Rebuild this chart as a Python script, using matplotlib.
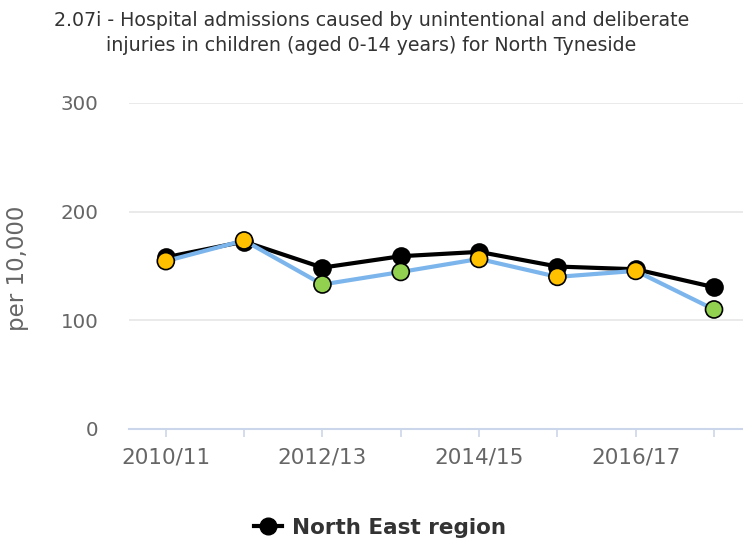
import matplotlib
matplotlib.use("Agg")
import matplotlib.pyplot as plt
from matplotlib.lines import Line2D

# Data.
years = ["2010/11", "2011/12", "2012/13", "2013/14",
         "2014/15", "2015/16", "2016/17", "2017/18"]
north_tyneside = [154.5, 173.5, 133.0, 144.5, 156.5, 140.0, 145.5, 110.0]
north_east = [158.0, 172.5, 148.5, 159.0, 163.0, 149.5, 147.0, 130.5]
# RAG rating of each North Tyneside point
rag = ["amber", "amber", "green", "green", "amber", "amber", "amber", "green"]
rag_colours = {"amber": "#ffc000", "green": "#92d050"}

title = ("2.07i - Hospital admissions caused by unintentional and deliberate\n"
         "injuries in children (aged 0-14 years) for North Tyneside")

fig = plt.figure(figsize=(7.43, 5.42), dpi=100)
ax = fig.add_axes([129 / 743, 1 - 429 / 542, (743 - 129) / 743, (429 - 103) / 542])

x = list(range(len(years)))

ax.plot(x, north_east, color="black", lw=3, zorder=3)
ax.scatter(x, north_east, s=150, color="black", edgecolor="black", lw=1.2, zorder=4)

ax.plot(x, north_tyneside, color="#7cb5ec", lw=3, zorder=5)
ax.scatter(x, north_tyneside, s=150, c=[rag_colours[r] for r in rag],
           edgecolor="black", lw=1.2, zorder=6)

ax.set_ylim(0, 300)
ax.set_xlim(-0.47, 7.37)
ax.set_yticks([0, 100, 200, 300])
ax.set_xticks(x)
ax.set_xticklabels([y if i % 2 == 0 else "" for i, y in enumerate(years)])

ax.grid(axis="y", color="#e6e6e6", lw=1.2)
ax.set_axisbelow(True)
for side in ["top", "right", "left"]:
    ax.spines[side].set_visible(False)
ax.spines["bottom"].set_color("#ccd6eb")
ax.spines["bottom"].set_linewidth(1.5)
ax.tick_params(axis="y", length=0, pad=22, labelsize=14.3, labelcolor="#666666")
ax.tick_params(axis="x", length=6, width=1.2, color="#ccd6eb", pad=7,
               labelsize=15.5, labelcolor="#666666")

fig.text(18 / 743, 1 - 268 / 542, "per 10,000", rotation=90, ha="center",
         va="center", fontsize=16.5, color="#666666")

fig.text(0.5, 1 - 33 / 542, title, ha="center", va="center", ma="center",
         fontsize=13.7, color="#333333", linespacing=1.35)

handle = Line2D([], [], color="black", lw=3, marker="o", markersize=12,
                markeredgecolor="black")
fig.legend([handle], ["North East region"], loc="center",
           bbox_to_anchor=(380 / 743, 1 - 528 / 542), frameon=False,
           prop={"size": 15.5, "weight": "bold"}, labelcolor="#333333",
           handlelength=1.3, handletextpad=0.5)

fig.savefig("out.png", dpi=100)
